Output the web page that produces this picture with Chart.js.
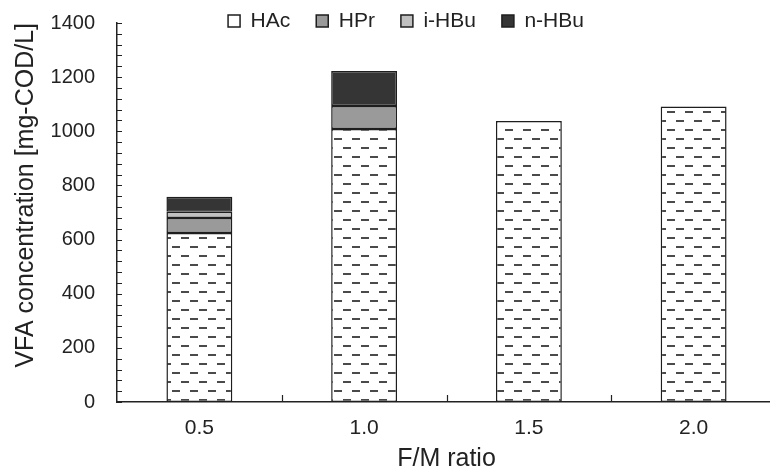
<!DOCTYPE html>
<html>
<head>
<meta charset="utf-8">
<script src="https://cdn.jsdelivr.net/npm/chart.js@4.4.1/dist/chart.umd.min.js"></script>
<style>
  html, body { margin: 0; padding: 0; background: #fff; overflow: hidden; }
</style>
</head>
<body>
<canvas id="chart" width="790" height="470"></canvas>
<script>
// F/M ratio categories and VFA fractions (mg-COD/L)
const ratios = ['0.5', '1.0', '1.5', '2.0'];
const hac  = [624, 1008, 1038, 1092];
const hpr  = [56, 85, null, null];
const iHbu = [23, null, null, null];
const nHbu = [55, 130, null, null];

const yMax = 1400;
const yStep = 200;
const yMinorStep = 40;

Chart.defaults.font.family = '"Liberation Sans", Arial, sans-serif';
Chart.defaults.color = '#222';

// white fill with short grey dashes, like the HAc bars
function dashPattern() {
    const c = document.createElement('canvas');
    c.width = 18; c.height = 18;
    const g = c.getContext('2d');
    g.fillStyle = '#fff';
    g.fillRect(0, 0, 18, 18);
    g.fillStyle = '#4a4a4a';
    g.fillRect(1, 3, 8, 2);
    g.fillRect(10, 12, 8, 2);
    return g.createPattern(c, 'repeat');
}

// inward tick marks on both axes
const axisTicks = {
    id: 'axisTicks',
    afterDraw(chart) {
        const {ctx, chartArea: a, scales: {x, y}} = chart;
        ctx.save();
        ctx.strokeStyle = '#222';
        ctx.lineWidth = 1.2;
        ctx.beginPath();
        for (let v = 0; v <= yMax; v += yMinorStep) {
            const py = Math.round(y.getPixelForValue(v)) + 0.5;
            ctx.moveTo(a.left, py);
            ctx.lineTo(a.left + 5, py);
        }
        const half = (x.getPixelForValue(1) - x.getPixelForValue(0)) / 2;
        for (let i = 0; i < ratios.length; i++) {
            const px = Math.round(x.getPixelForValue(i) + half) + 0.5;
            ctx.moveTo(px, a.bottom);
            ctx.lineTo(px, a.bottom - 7);
        }
        ctx.stroke();
        ctx.restore();
    }
};

// legend sits over the top of the plot, like in the original
const legendNudge = {
    id: 'legendNudge',
    afterLayout(chart) {
        const lg = chart.legend;
        const dy = 18.5, dx = 12.5;
        lg.top += dy; lg.bottom += dy;
        lg.left += dx; lg.right += dx;
    }
};

const border = '#1e1e1e';

new Chart(document.getElementById('chart'), {
    type: 'bar',
    data: {
        labels: ratios,
        datasets: [
            { label: 'HAc', data: hac, backgroundColor: dashPattern() },
            { label: 'HPr', data: hpr, backgroundColor: '#9a9a9a' },
            { label: 'i-HBu', data: iHbu, backgroundColor: '#c0c0c0' },
            { label: 'n-HBu', data: nHbu, backgroundColor: '#353535' }
        ].map(d => Object.assign(d, {
            borderColor: border,
            borderWidth: 1.5,
            borderSkipped: false,
            barPercentage: 0.4,
            categoryPercentage: 1
        }))
    },
    options: {
        responsive: false,
        animation: false,
        layout: { padding: { left: 11, right: 14, top: -34, bottom: -4 } },
        plugins: {
            tooltip: { enabled: false },
            legend: {
                position: 'top',
                labels: {
                    boxWidth: 12,
                    boxHeight: 12,
                    padding: 26,
                    color: '#222',
                    font: { size: 21 },
                    generateLabels(chart) {
                        const items = Chart.defaults.plugins.legend.labels.generateLabels(chart);
                        items[0].fillStyle = '#fff';
                        return items;
                    }
                }
            }
        },
        scales: {
            x: {
                stacked: true,
                grid: { display: false, drawTicks: false },
                border: { color: '#222', width: 1.5 },
                ticks: { padding: 14, font: { size: 21 }, color: '#222' },
                title: { display: true, text: 'F/M ratio', font: { size: 25 }, color: '#222', padding: { top: 4, bottom: 0 } },
                afterFit(s) { s.height = 72; }
            },
            y: {
                stacked: true,
                min: 0,
                max: yMax,
                // hidden tick marks only keep the labels clear of the axis
                grid: { display: false, drawTicks: true, tickLength: 20 },
                border: { color: '#222', width: 1.5 },
                ticks: { stepSize: yStep, padding: 2, font: { size: 20 }, color: '#222', callback: v => String(v) },
                title: { display: true, text: 'VFA concentration [mg-COD/L]', align: 'end', font: { size: 25 }, color: '#222', padding: { top: 0, bottom: 0 } },
                afterFit(s) { s.width = 106; }
            }
        }
    },
    plugins: [axisTicks, legendNudge]
});
</script>
</body>
</html>
